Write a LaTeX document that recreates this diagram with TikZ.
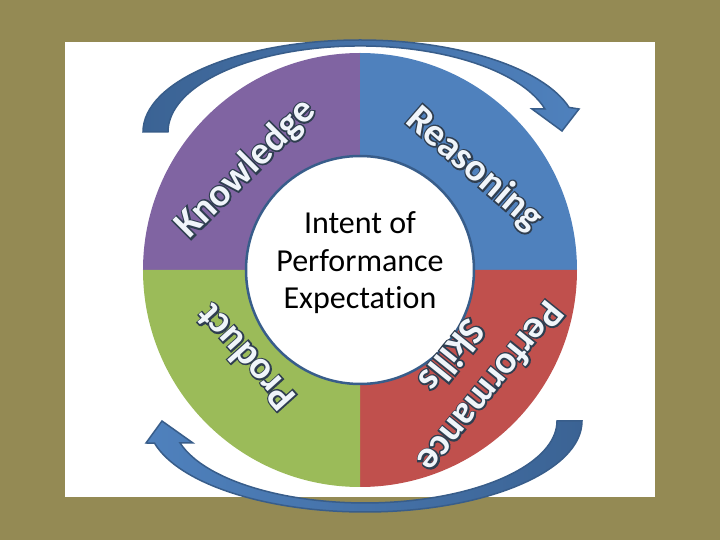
\documentclass[tikz,border=0pt]{standalone}
\usepackage{fontspec}
\setmainfont{Carlito}[Ligatures=NoCommon]
\newfontfamily\rimfont{Carlito}[Ligatures=NoCommon, BoldFeatures={FakeBold=8}]

\definecolor{olivebg}{HTML}{948A54}
\definecolor{knowpurple}{HTML}{8064A2}
\definecolor{reasonblue}{HTML}{4F81BD}
\definecolor{perfred}{HTML}{C0504D}
\definecolor{prodgreen}{HTML}{9BBB59}
\definecolor{ringedge}{HTML}{385D8A}
\definecolor{arrowdark}{HTML}{3B6394}
\definecolor{labeledge}{HTML}{2F3E50}
\definecolor{labelfill}{HTML}{F0F5FA}

% white label over a fattened dark copy of itself
\newcommand{\ringlabel}[4]{%
  \node[ringtext, rimtext, rotate=#3] at (#2) {#4};
  \node[ringtext, rotate=#3] (#1) at (#2) {#4};
}

\begin{document}
\begin{tikzpicture}[
    x=1pt, y=1pt,
    ringtext/.style={font=\bfseries\fontsize{39}{50}\selectfont,
                     text=labelfill, align=center, inner sep=0pt},
    rimtext/.style={font=\rimfont\bfseries\fontsize{39}{50}\selectfont,
                    text=labeledge},
    centertext/.style={font=\fontsize{32}{37.5}\selectfont, align=center},
    cyclearrow/.style={draw=ringedge, line width=1.5pt, line join=miter},
]
% Frame
\fill[olivebg] (-360,-270) rectangle (360,270);
\fill[white] (-295,-227) rectangle (295,228);

% Top arrow (Knowledge to Reasoning)
\shadedraw[cyclearrow, left color=arrowdark, right color=reasonblue]
    (-217,138) arc[start angle=180, end angle=15.5, x radius=217, y radius=92]
    -- (219,161) -- (202,139) -- (172,161) -- (185,161)
    arc[start angle=15.5, end angle=180, x radius=192, y radius=86] -- cycle;

% Bottom arrow (Performance back to Product)
\shadedraw[cyclearrow, left color=reasonblue, right color=arrowdark]
    (222,-151) arc[start angle=0, end angle=-166, x radius=217, y radius=91]
    -- (-214,-173) -- (-198,-151) -- (-167,-173) -- (-179.9,-173)
    arc[start angle=-164.4, end angle=0, x radius=192, y radius=82] -- cycle;

% Quadrants
\fill[knowpurple] (0,0) -- (0,217) arc[start angle=90, end angle=180, radius=217] -- cycle;
\fill[reasonblue] (0,0) -- (217,0) arc[start angle=0, end angle=90, radius=217] -- cycle;
\fill[perfred] (0,0) -- (0,-217) arc[start angle=270, end angle=360, radius=217] -- cycle;
\fill[prodgreen] (0,0) -- (-217,0) arc[start angle=180, end angle=270, radius=217] -- cycle;

% Hub
\node[circle, draw=ringedge, line width=2.5pt, fill=white,
      minimum size=228pt, inner sep=0pt] (hub) at (0,0) {};
\node[centertext] (intent) at (0,7) {Intent of\\Performance\\Expectation};

% Ring labels
\ringlabel{know}{-114,101}{45}{Knowledge}
\ringlabel{reason}{114,101}{-41}{Reasoning}
\ringlabel{prod}{-115,-88}{132}{Product}
\ringlabel{perf}{112,-102}{231}{Performance\\Skills}
\end{tikzpicture}
\end{document}
